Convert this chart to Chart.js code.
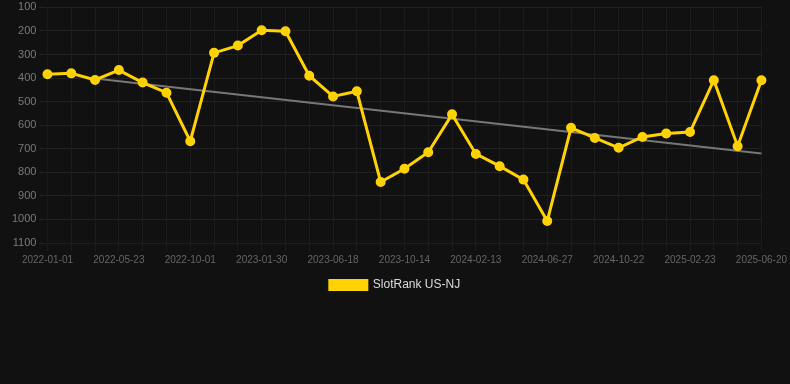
<!DOCTYPE html>
<html>
<head>
<meta charset="utf-8">
<script src="https://cdn.jsdelivr.net/npm/chart.js@4"></script>
<style>
  html, body { margin: 0; padding: 0; background: #111111; }
  #wrap { width: 790px; height: 301px; }
</style>
</head>
<body>
<div id="wrap"><canvas id="rankChart"></canvas></div>
<script>
const labels = [
    '2022-01-01', '2022-02-17', '2022-04-05', '2022-05-23', '2022-07-05', '2022-08-18',
    '2022-10-01', '2022-11-10', '2022-12-20', '2023-01-30', '2023-03-16', '2023-05-02',
    '2023-06-18', '2023-07-27', '2023-09-04', '2023-10-14', '2023-11-23', '2024-01-03',
    '2024-02-13', '2024-03-28', '2024-05-13', '2024-06-27', '2024-08-05', '2024-09-13',
    '2024-10-22', '2024-12-03', '2025-01-13', '2025-02-23', '2025-04-03', '2025-05-12',
    '2025-06-20'
];
const rankValues = [
    384, 380, 408, 366, 419, 462, 668, 293, 262, 197, 201,
    390, 478, 456, 841, 785, 715, 554, 722, 774, 831, 1007,
    611, 654, 696, 650, 635, 629, 409, 689, 409
];
// trend line end points
const trendValues = labels.map(() => null);
trendValues[2] = 402;
trendValues[30] = 720;

const gold = '#ffd200';

const ctx = document.getElementById('rankChart').getContext('2d');
const rankChart = new Chart(ctx, {
    type: 'line',
    data: {
        labels: labels,
        datasets: [
            {
                label: 'SlotRank US-NJ',
                data: rankValues,
                borderColor: gold,
                backgroundColor: gold,
                borderWidth: 3,
                pointRadius: 4,
                pointBorderWidth: 2,
                pointHoverRadius: 5,
                tension: 0
            },
            {
                label: 'trend',
                data: trendValues,
                borderColor: '#777777',
                borderWidth: 2,
                pointRadius: 0,
                spanGaps: true,
                tension: 0
            }
        ]
    },
    options: {
        responsive: true,
        maintainAspectRatio: false,
        animation: false,
        scales: {
            y: {
                reverse: true,
                min: 100,
                max: 1100,
                afterFit: (axis) => { axis.width += 9; },
                ticks: {
                    stepSize: 100,
                    color: '#7a7a7a',
                    font: { size: 11, lineHeight: 0.8 },
                    callback: (value) => String(value)
                },
                grid: { color: '#222222' }
            },
            x: {
                ticks: {
                    autoSkip: false,
                    maxRotation: 0,
                    color: '#666666',
                    font: { size: 10 },
                    callback: function (value, index) {
                        return index % 3 === 0 ? labels[index] : '';
                    }
                },
                grid: { color: '#1c1c1c' }
            }
        },
        plugins: {
            legend: {
                position: 'bottom',
                labels: {
                    color: '#dddddd',
                    boxWidth: 37,
                    boxHeight: 9,
                    font: { size: 12 },
                    filter: (item) => item.datasetIndex === 0
                }
            }
        }
    }
});
</script>
</body>
</html>
